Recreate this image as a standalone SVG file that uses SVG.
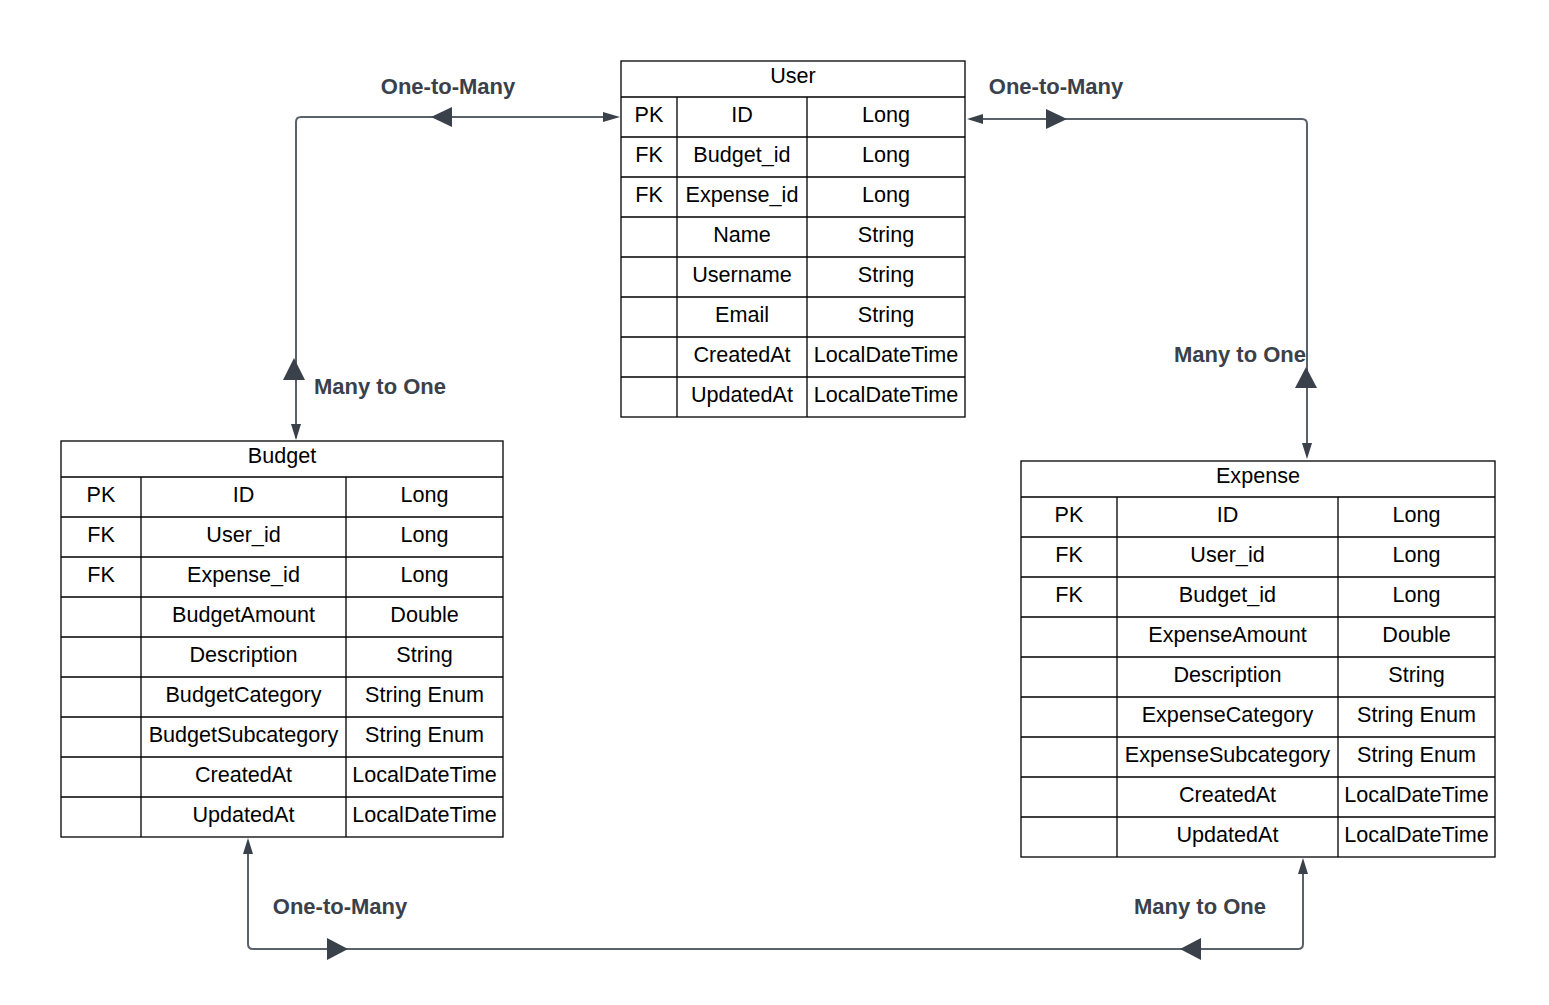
<svg xmlns="http://www.w3.org/2000/svg" width="1549" height="1005" viewBox="0 0 1549 1005">
<style>
.cell{fill:#ffffff;stroke:#000000;stroke-width:1.3}
.ln{fill:none;stroke:#000000;stroke-width:1.3}
.t{font-family:"Liberation Sans",Arial,sans-serif;font-size:21.6px;fill:#000000;text-anchor:middle}
.lbl{font-family:"Liberation Sans",Arial,sans-serif;font-size:22px;font-weight:bold;fill:#3a414a;text-anchor:middle}
.conn{fill:none;stroke:#5b616b;stroke-width:2}
.head{fill:#3a414a;stroke:none}
</style>
<rect width="1549" height="1005" fill="#ffffff"/>
<g id="connectors">
  <path class="conn" d="M296,438 L296,122 Q296,117 301,117 L604,117"/>
  <polygon class="head" points="291,424 301,424 296,440"/>
  <polygon class="head" points="603,112 603,122 620,117"/>
  <polygon class="head" points="431,117 452,107 452,127"/>
  <polygon class="head" points="294,358 283,380 305,380"/>
  <path class="conn" d="M983,119 L1302,119 Q1307,119 1307,124 L1307,443"/>
  <polygon class="head" points="967,119 983,114 983,124"/>
  <polygon class="head" points="1067,119 1046,109 1046,129"/>
  <polygon class="head" points="1306,367 1295,388 1317,388"/>
  <polygon class="head" points="1302,443 1312,443 1307,459"/>
  <path class="conn" d="M248,854 L248,944 Q248,949 253,949 L1298,949 Q1303,949 1303,944 L1303,873"/>
  <polygon class="head" points="248,838 243,854 253,854"/>
  <polygon class="head" points="348,949 327,938 327,960"/>
  <polygon class="head" points="1180,949 1201,938 1201,960"/>
  <polygon class="head" points="1303,858 1298,874 1308,874"/>
</g>
<g id="labels">
  <text class="lbl" x="448" y="94">One-to-Many</text>
  <text class="lbl" x="1056" y="94">One-to-Many</text>
  <text class="lbl" x="380" y="394">Many to One</text>
  <text class="lbl" x="1240" y="362">Many to One</text>
  <text class="lbl" x="340" y="914">One-to-Many</text>
  <text class="lbl" x="1200" y="914">Many to One</text>
</g>
<g id="user">
  <rect class="cell" x="621" y="61" width="344" height="356"/>
  <path class="ln" d="M621,97 H965 M621,137 H965 M621,177 H965 M621,217 H965 M621,257 H965 M621,297 H965 M621,337 H965 M621,377 H965 M677,97 V417 M807,97 V417"/>
  <text class="t" x="793" y="83">User</text>
  <text class="t" x="649" y="122">PK</text><text class="t" x="742" y="122">ID</text><text class="t" x="886" y="122">Long</text>
  <text class="t" x="649" y="162">FK</text><text class="t" x="742" y="162">Budget_id</text><text class="t" x="886" y="162">Long</text>
  <text class="t" x="649" y="202">FK</text><text class="t" x="742" y="202">Expense_id</text><text class="t" x="886" y="202">Long</text>
  <text class="t" x="742" y="242">Name</text><text class="t" x="886" y="242">String</text>
  <text class="t" x="742" y="282">Username</text><text class="t" x="886" y="282">String</text>
  <text class="t" x="742" y="322">Email</text><text class="t" x="886" y="322">String</text>
  <text class="t" x="742" y="362">CreatedAt</text><text class="t" x="886" y="362">LocalDateTime</text>
  <text class="t" x="742" y="402">UpdatedAt</text><text class="t" x="886" y="402">LocalDateTime</text>
</g>
<g id="budget">
  <rect class="cell" x="61" y="441" width="442" height="396"/>
  <path class="ln" d="M61,477 H503 M61,517 H503 M61,557 H503 M61,597 H503 M61,637 H503 M61,677 H503 M61,717 H503 M61,757 H503 M61,797 H503 M141,477 V837 M346,477 V837"/>
  <text class="t" x="282" y="463">Budget</text>
  <text class="t" x="101" y="502">PK</text><text class="t" x="243.5" y="502">ID</text><text class="t" x="424.5" y="502">Long</text>
  <text class="t" x="101" y="542">FK</text><text class="t" x="243.5" y="542">User_id</text><text class="t" x="424.5" y="542">Long</text>
  <text class="t" x="101" y="582">FK</text><text class="t" x="243.5" y="582">Expense_id</text><text class="t" x="424.5" y="582">Long</text>
  <text class="t" x="243.5" y="622">BudgetAmount</text><text class="t" x="424.5" y="622">Double</text>
  <text class="t" x="243.5" y="662">Description</text><text class="t" x="424.5" y="662">String</text>
  <text class="t" x="243.5" y="702">BudgetCategory</text><text class="t" x="424.5" y="702">String Enum</text>
  <text class="t" x="243.5" y="742">BudgetSubcategory</text><text class="t" x="424.5" y="742">String Enum</text>
  <text class="t" x="243.5" y="782">CreatedAt</text><text class="t" x="424.5" y="782">LocalDateTime</text>
  <text class="t" x="243.5" y="822">UpdatedAt</text><text class="t" x="424.5" y="822">LocalDateTime</text>
</g>
<g id="expense">
  <rect class="cell" x="1021" y="461" width="474" height="396"/>
  <path class="ln" d="M1021,497 H1495 M1021,537 H1495 M1021,577 H1495 M1021,617 H1495 M1021,657 H1495 M1021,697 H1495 M1021,737 H1495 M1021,777 H1495 M1021,817 H1495 M1117,497 V857 M1338,497 V857"/>
  <text class="t" x="1258" y="483">Expense</text>
  <text class="t" x="1069" y="522">PK</text><text class="t" x="1227.5" y="522">ID</text><text class="t" x="1416.5" y="522">Long</text>
  <text class="t" x="1069" y="562">FK</text><text class="t" x="1227.5" y="562">User_id</text><text class="t" x="1416.5" y="562">Long</text>
  <text class="t" x="1069" y="602">FK</text><text class="t" x="1227.5" y="602">Budget_id</text><text class="t" x="1416.5" y="602">Long</text>
  <text class="t" x="1227.5" y="642">ExpenseAmount</text><text class="t" x="1416.5" y="642">Double</text>
  <text class="t" x="1227.5" y="682">Description</text><text class="t" x="1416.5" y="682">String</text>
  <text class="t" x="1227.5" y="722">ExpenseCategory</text><text class="t" x="1416.5" y="722">String Enum</text>
  <text class="t" x="1227.5" y="762">ExpenseSubcategory</text><text class="t" x="1416.5" y="762">String Enum</text>
  <text class="t" x="1227.5" y="802">CreatedAt</text><text class="t" x="1416.5" y="802">LocalDateTime</text>
  <text class="t" x="1227.5" y="842">UpdatedAt</text><text class="t" x="1416.5" y="842">LocalDateTime</text>
</g>
</svg>
